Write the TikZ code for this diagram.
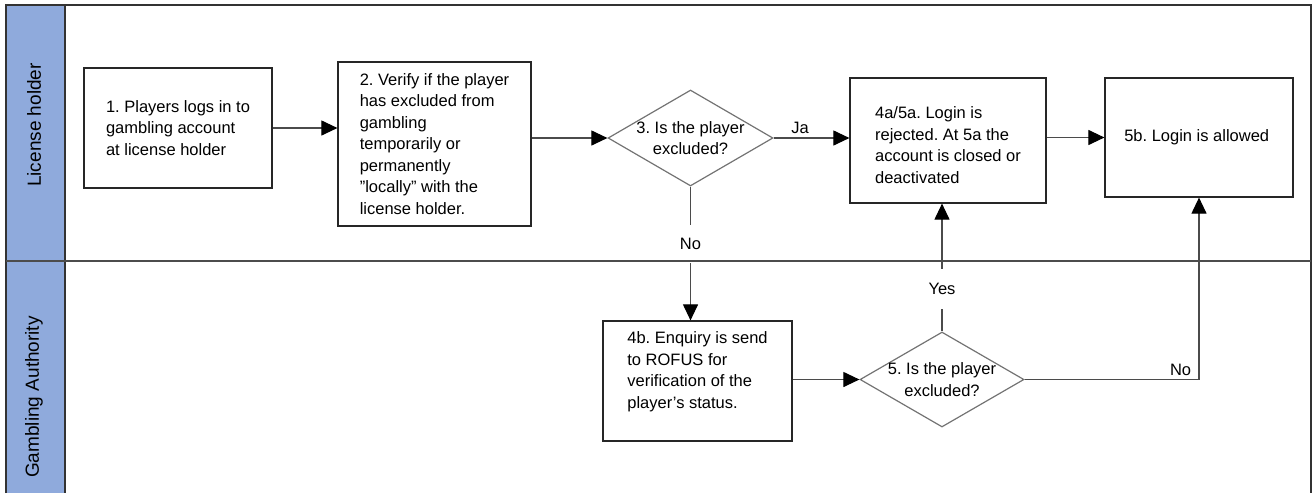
\documentclass[tikz,border=0pt]{standalone}
\usepackage{fontspec}
\setmainfont{Liberation Sans}
\usetikzlibrary{shapes.geometric,arrows.meta}
\definecolor{lanefill}{RGB}{143,170,220}
\definecolor{linegray}{RGB}{75,75,75}
\frenchspacing
\begin{document}
\begin{tikzpicture}[x=1pt, y=-1pt,
	font=\fontsize{16.5}{21.5}\selectfont,
	lanetitle/.style = { rotate=90, font=\fontsize{19}{22}\selectfont },
	stepbox/.style = { draw=black!85, line width=1.2pt, align=left, inner sep=0pt },
	decision/.style = { draw=black!55, line width=1.2pt, diamond, inner sep=0pt,
		minimum width=165pt, minimum height=96pt },
	flow/.style = { draw=linegray, line width=1.1pt, -{Triangle[length=16pt,width=15pt,black]} },
	answer/.style = { fill=white, inner sep=1pt }]
	\useasboundingbox (0,0) rectangle (1313,493);
	\fill [lanefill] (6,5) rectangle (65,493);
	\node [lanetitle] (lane1) at (34,125) { License holder };
	\node [lanetitle] (lane2) at (34,397) { Gambling Authority };

	\node [stepbox, minimum width=188pt, minimum height=120pt] (box1) at (178,128)
		{ 1. Players logs in to\\gambling account\\at license holder };
	\node [stepbox, minimum width=193pt, minimum height=164pt] (box2) at (434.5,144)
		{ 2. Verify if the player\\has excluded from\\gambling\\temporarily or\\permanently\\”locally” with the\\license holder. };
	\node [decision] (d3) at (690.5,138) {};
	\node [align=center] at (d3) { 3. Is the player\\excluded? };
	\node [stepbox, minimum width=196pt, minimum height=125pt] (box4a) at (948,140.5)
		{ \mbox{}\\4a/5a. Login is\\rejected. At 5a the\\account is closed or\\deactivated };
	\node [stepbox, minimum width=188pt, minimum height=119pt] (box5b) at (1199,137.5)
		{ 5b. Login is allowed };
	\node [stepbox, minimum width=189pt, minimum height=120pt] (box4b) at (697.5,381)
		{ 4b. Enquiry is send\\to ROFUS for\\verification of the\\player’s status.\\\mbox{} };
	\node [decision, minimum width=164pt, minimum height=95pt] (d5) at (942,379.5) {};
	\node [align=center] at (d5) { 5. Is the player\\excluded? };

	\draw [flow] (box1.east) -- (box1.east -| box2.west);
	\draw [flow] (box2.east |- d3.west) -- (d3.west);
	\draw [flow] (d3.east) -- node [above, pos=0.35] { Ja } (d3.east -| box4a.west);
	\draw [flow] (box4a.east |- box5b.west) -- (box5b.west);
	\draw [flow] (d3.south) -- node [answer, pos=0.43, minimum height=38pt] { No } (d3.south |- box4b.north);
	\draw [flow] (box4b.east |- d5.west) -- (d5.west);
	\draw [flow] (d5.north) -- node [answer, pos=0.335, minimum height=40pt] { Yes } (d5.north |- box4a.south);
	\draw [flow] (d5.east) -| node [above left, pos=0.5, xshift=-4pt] { No } (box5b.south);

	\draw [line width=1.2pt, black!80] (6,493) -- (6,5) -- (1311,5) -- (1311,493);
	\draw [line width=1.2pt, black!80] (65,5) -- (65,493);
	\draw [line width=1.2pt, black!70] (6,261) -- (1311,261);
\end{tikzpicture}
\end{document}
